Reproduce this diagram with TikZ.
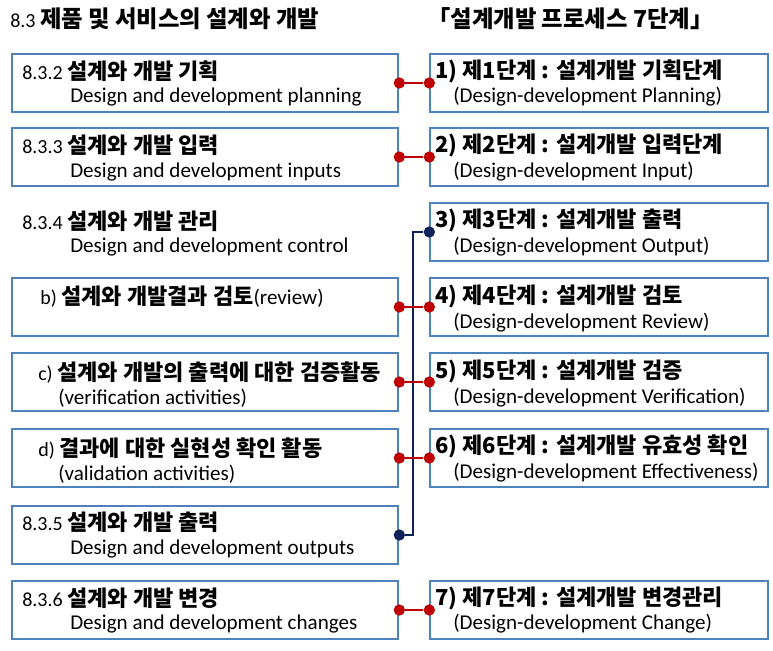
\documentclass[tikz,border=0pt]{standalone}
\usepackage{fontspec}
\setmainfont{Carlito}
\newfontfamily\kr{Noto Sans CJK KR}
\usetikzlibrary{positioning}
\definecolor{boxblue}{RGB}{79,129,189}
\definecolor{linkred}{RGB}{192,0,0}
\definecolor{linknavy}{RGB}{14,35,90}
\newcommand{\numtxt}[1]{{\normalfont\fontsize{15}{17}\selectfont #1}}
\tikzset{
  leftbox/.style={
    minimum width=290pt,
    minimum height=44pt,
    draw=boxblue,
    line width=1.5pt,
    inner sep=0pt
  },
  rightbox/.style={
    minimum width=253pt,
    minimum height=44pt,
    draw=boxblue,
    line width=1.5pt,
    inner sep=0pt
  },
  head/.style={anchor=west, inner sep=0pt, font=\kr\bfseries\fontsize{16.5}{18}\selectfont},
  sub/.style={anchor=west, inner sep=0pt, font=\fontsize{15.8}{18}\selectfont},
  redlink/.style={draw=linkred, line width=2pt},
  navylink/.style={draw=linknavy, line width=2pt},
  reddot/.style={circle, fill=linkred, inner sep=0pt, minimum size=8.5pt},
  navydot/.style={circle, fill=linknavy, inner sep=0pt, minimum size=8.5pt}
}
\begin{document}
\begin{tikzpicture}[x=0.75pt, y=-0.75pt]
  \useasboundingbox (0,0) rectangle (773,650);
  % headers
  \node (lhead) [anchor=west, inner sep=0pt, font=\kr\bfseries\fontsize{17.5}{19}\selectfont] at (10,19) {\numtxt{8.3 }제품 및 서비스의 설계와 개발};
  \node (rhead) [anchor=west, inner sep=0pt, font=\kr\bfseries\fontsize{17.5}{19}\selectfont] at (427,19) {「설계개발 프로세스 7단계」};
  % left boxes
  \node (plan) [leftbox] at (205,83) {};
  \node (input) [leftbox] at (205,157) {};
  \node (review) [leftbox] at (205,307) {};
  \node (verif) [leftbox] at (205,382) {};
  \node (valid) [leftbox] at (205,458) {};
  \node (output) [leftbox] at (205,535) {};
  \node (change) [leftbox] at (205,610) {};
  % left texts
  \node [head] at (22,71) {\numtxt{8.3.2 }설계와 개발 기획};
  \node [sub] at (70,97) {Design and development planning};
  \node [head] at (22,145) {\numtxt{8.3.3 }설계와 개발 입력};
  \node [sub] at (70,172) {Design and development inputs};
  \node (control) [head] at (22,221) {\numtxt{8.3.4 }설계와 개발 관리};
  \node [sub] at (70,247) {Design and development control};
  \node [head] at (40,297) {\numtxt{b) }설계와 개발결과 검토{\normalfont\fontsize{15.8}{18}\selectfont (review)}};
  \node [head] at (38,373) {\numtxt{c) }설계와 개발의 출력에 대한 검증활동};
  \node [sub] at (58,398) {(verification activities)};
  \node [head] at (38,449) {\numtxt{d) }결과에 대한 실현성 확인 활동};
  \node [sub] at (58,474) {(validation activities)};
  \node [head] at (22,522) {\numtxt{8.3.5 }설계와 개발 출력};
  \node [sub] at (70,549) {Design and development outputs};
  \node [head] at (22,598) {\numtxt{8.3.6 }설계와 개발 변경};
  \node [sub] at (70,624) {Design and development changes};
  % right boxes
  \node (s1) [rightbox] at (599,83) {};
  \node (s2) [rightbox] at (599,157) {};
  \node (s3) [rightbox] at (599,232) {};
  \node (s4) [rightbox] at (599,307) {};
  \node (s5) [rightbox] at (599,382) {};
  \node (s6) [rightbox] at (599,458) {};
  \node (s7) [rightbox] at (599,610) {};
  % right texts
  \node [head] at (435,71) {1) 제1단계 : 설계개발 기획단계};
  \node [sub] at (453,97) {(Design-development Planning)};
  \node [head] at (435,145) {2) 제2단계 : 설계개발 입력단계};
  \node [sub] at (453,172) {(Design-development Input)};
  \node [head] at (435,220) {3) 제3단계 : 설계개발 출력};
  \node [sub] at (453,247) {(Design-development Output)};
  \node [head] at (435,296) {4) 제4단계 : 설계개발 검토};
  \node [sub] at (453,323) {(Design-development Review)};
  \node [head] at (435,371) {5) 제5단계 : 설계개발 검증};
  \node [sub] at (453,398) {(Design-development Verification)};
  \node [head] at (435,446) {6) 제6단계 : 설계개발 유효성 확인};
  \node [sub] at (453,473) {(Design-development Effectiveness)};
  \node [head] at (435,598) {7) 제7단계 : 설계개발 변경관리};
  \node [sub] at (453,624) {(Design-development Change)};
  % output link
  \node (o3) [navydot] at (s3.west) {};
  \node (o5) [navydot] at (output.east) {};
  \coordinate (bendtop) at (413,232);
  \coordinate (bendbot) at (413,535);
  \draw [navylink] (o3) -- (bendtop) -- (bendbot) -- (o5);
  % red links
  \foreach \l/\r in {plan/s1, input/s2, review/s4, verif/s5, valid/s6, change/s7} {
    \node (a\l) [reddot] at (\l.east) {};
    \node (b\l) [reddot] at (\r.west) {};
    \draw [redlink] (a\l) -- (b\l);
  }
\end{tikzpicture}
\end{document}
